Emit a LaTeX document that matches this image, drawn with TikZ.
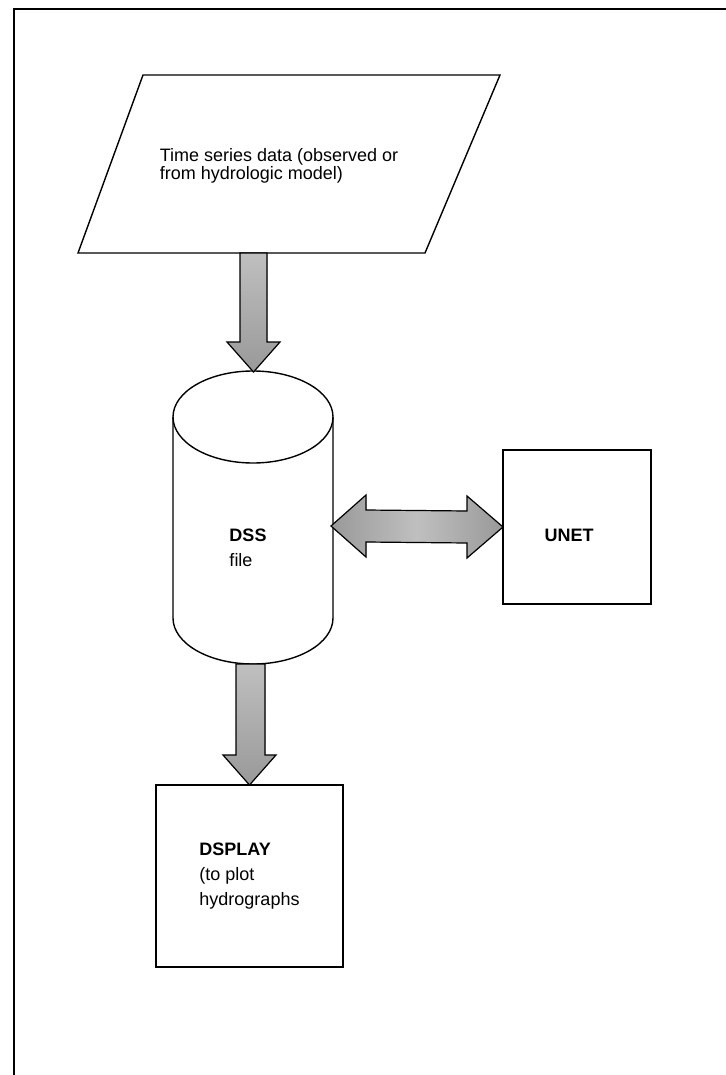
\documentclass[tikz,border=0pt]{standalone}
\usepackage{fontspec}
\setmainfont{Liberation Sans}
\usetikzlibrary{calc}
\newcommand{\flowfont}{\fontsize{18}{25}\selectfont}
\begin{document}
\begin{tikzpicture}[x=1pt,y=-1pt,inner sep=0pt,outer sep=0pt,line width=1.4pt,
fatarrow/.style={draw=black,line width=1.2pt,top color=gray!50,bottom color=gray!80},
fatarrowh/.style={draw=black,line width=1.2pt,left color=gray!80,right color=gray!80,middle color=gray!50},
procbox/.style={draw,rectangle,align=left,font=\flowfont,line width=1.4pt}]
\useasboundingbox (0,0) rectangle (725,1075);
% outer frame
\draw[line width=1.6pt] (14,1080) -- (14,9) -- (730,9);
% input data
\draw (143,75) -- (500,75) -- (425,253) -- (78,253) -- cycle;
\node[align=left,font=\fontsize{18}{17.5}\selectfont] (series) at (279,166) {Time series data (observed or\\from hydrologic model)};
\coordinate (seriesbot) at (253.5,253);
% DSS file
\draw[fill=white] (173,417) -- (173,618) arc[start angle=180,end angle=0,x radius=80,y radius=46] -- (333,417);
\draw (253,417) ellipse[x radius=80,y radius=46];
\coordinate (dsstop) at (253.5,372);
\coordinate (dssbot) at (251,664);
\coordinate (dssright) at (331,526);
\node[align=left,font=\flowfont] (dss) at (248,548) {\textbf{DSS}\\file};
% UNET
\node[procbox,minimum width=148pt,minimum height=154pt] (unet) at (577,527) {};
\node[font=\flowfont\bfseries] (unettxt) at (569,535) {UNET};
% DSPLAY
\node[procbox,minimum width=187pt,minimum height=182pt] (dsplay) at (249.5,876) {\textbf{DSPLAY}\\(to plot\\hydrographs};
% block arrows
\filldraw[fatarrow] (dsstop) -- ++(-26.5,-30) -- ++(13,0) |- (seriesbot) -- ++(13.5,0) |- ($(dsstop)+(26.5,-30)$) -- cycle;
\filldraw[fatarrow] (dsplay.north) -- ++(-26.5,-30) -- ++(13,0) |- (dssbot) -- ++(14,0) |- ($(dsplay.north)+(26.5,-30)$) -- cycle;
\filldraw[fatarrowh] (dssright) -- ++(35,-31) -- ++(0,15) -- ($(unet.west)+(-36,-16)$) -- ++(0,-15) -- (unet.west) -- ++(-36,31) -- ++(0,-15) -- ($(dssright)+(35,16)$) -- ++(0,15) -- cycle;
\end{tikzpicture}
\end{document}
